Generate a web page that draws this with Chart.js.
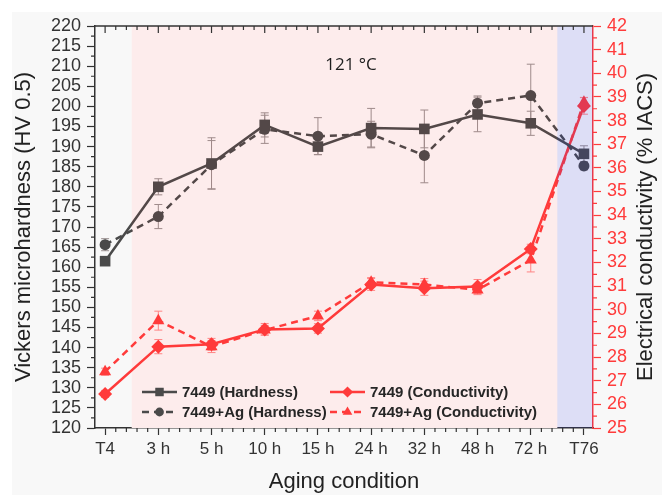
<!DOCTYPE html>
<html>
<head>
<meta charset="utf-8">
<script src="https://cdn.jsdelivr.net/npm/chart.js@4.4.0/dist/chart.umd.min.js"></script>
<style>
  html, body { margin: 0; padding: 0; background: #fff; }
  #wrap { width: 672px; height: 495px; }
</style>
</head>
<body>
<div id="wrap"><canvas id="chart" width="672" height="495"></canvas></div>
<script>
// aging conditions along the x axis
const conditions = ['T4', '3 h', '5 h', '10 h', '15 h', '24 h', '32 h', '48 h', '72 h', 'T76'];

// Vickers hardness (HV 0.5) and spread
const hardness7449 = [161.5, 180.0, 185.8, 195.4, 190.0, 194.6, 194.4, 198.0, 195.8, 188.2];
const hardness7449Err = [1.0, 2.0, 6.4, 3.0, 2.0, 4.9, 4.7, 4.3, 3.0, 2.0];
const hardnessAg = [165.6, 172.6, 185.5, 194.3, 192.6, 193.1, 187.8, 200.8, 202.7, 185.2];
const hardnessAgErr = [1.5, 3.0, 6.0, 3.5, 4.6, 3.2, 6.8, 1.8, 7.8, 1.0];

// electrical conductivity (% IACS) and spread
const cond7449 = [26.44, 28.44, 28.54, 29.17, 29.21, 31.07, 30.91, 30.98, 32.57, 38.62];
const cond7449Err = [0.15, 0.3, 0.25, 0.25, 0.2, 0.25, 0.3, 0.3, 0.2, 0.35];
const condAg = [27.38, 29.54, 28.44, 29.14, 29.74, 31.16, 31.07, 30.84, 32.10, 38.78];
const condAgErr = [0.15, 0.4, 0.25, 0.2, 0.2, 0.2, 0.25, 0.2, 0.5, 0.2];

// shaded aging windows (x positions in category units)
const agingBand = [0.5, 8.5];
const t76Band = [8.5, 9.17];

const DARK = '#4a4a4a';
const RED = '#ff3b3b';
const FONT = "'Liberation Sans', Arial, sans-serif";

const toPoints = arr => arr.map((v, i) => ({ x: i, y: v }));

// error bars, drawn under the lines
const errorBars = {
  id: 'errorBars',
  beforeDatasetsDraw(chart) {
    const ctx = chart.ctx;
    const xs = chart.scales.x;
    chart.data.datasets.forEach(ds => {
      const ys = chart.scales[ds.yAxisID];
      ctx.save();
      ctx.strokeStyle = ds.errorColor;
      ctx.lineWidth = 1;
      ds.data.forEach((p, i) => {
        const e = ds.errors[i];
        const px = xs.getPixelForValue(p.x);
        const top = ys.getPixelForValue(p.y + e);
        const bot = ys.getPixelForValue(p.y - e);
        ctx.beginPath();
        ctx.moveTo(px, top); ctx.lineTo(px, bot);
        ctx.moveTo(px - 4, top); ctx.lineTo(px + 4, top);
        ctx.moveTo(px - 4, bot); ctx.lineTo(px + 4, bot);
        ctx.stroke();
      });
      ctx.restore();
    });
  }
};

// page background, band fills under the data and a light tint over it
const bands = {
  id: 'bands',
  beforeDraw(chart) {
    const ctx = chart.ctx;
    ctx.save();
    ctx.fillStyle = '#ffffff';
    ctx.fillRect(0, 0, chart.width, chart.height);
    ctx.fillStyle = '#f8f8f8';
    ctx.fillRect(12, 12, 650, chart.height - 12);
    ctx.restore();
  },
  beforeDatasetsDraw(chart) {
    const ctx = chart.ctx;
    const xs = chart.scales.x;
    const { top, bottom } = chart.chartArea;
    const x0 = xs.getPixelForValue(agingBand[0]);
    const x1 = xs.getPixelForValue(agingBand[1]);
    ctx.save();
    ctx.fillStyle = '#fdf7f7';
    ctx.fillRect(x0, top, x1 - x0, bottom - top);
    ctx.restore();
  },
  afterDatasetsDraw(chart) {
    const ctx = chart.ctx;
    const xs = chart.scales.x;
    const { top, bottom } = chart.chartArea;
    ctx.save();
    let x0 = xs.getPixelForValue(agingBand[0]);
    let x1 = xs.getPixelForValue(agingBand[1]);
    ctx.fillStyle = 'rgba(255, 40, 40, 0.05)';
    ctx.fillRect(x0, top, x1 - x0, bottom - top);
    x0 = xs.getPixelForValue(t76Band[0]);
    x1 = xs.getPixelForValue(t76Band[1]);
    ctx.fillStyle = 'rgba(40, 50, 230, 0.13)';
    ctx.fillRect(x0, top, x1 - x0, bottom - top);
    ctx.restore();
  }
};

// minor ticks, top frame, legend, annotation and right-hand title
const decorations = {
  id: 'decorations',
  afterDraw(chart) {
    const ctx = chart.ctx;
    const { x: xs, y: yl, y2: yr } = chart.scales;
    const { left, right, top, bottom } = chart.chartArea;
    ctx.save();

    // top frame line with inward ticks
    ctx.strokeStyle = '#333';
    ctx.lineWidth = 1.5;
    ctx.beginPath();
    ctx.moveTo(left, top); ctx.lineTo(right, top);
    ctx.stroke();
    ctx.lineWidth = 1.2;
    ctx.beginPath();
    for (let v = 0; v <= 9.001; v += 0.2) {
      const px = xs.getPixelForValue(v);
      if (px > right) break;
      const major = Math.abs(v - Math.round(v)) < 0.01;
      ctx.moveTo(px, top); ctx.lineTo(px, top + (major ? 7 : 4));
      if (!major) { ctx.moveTo(px, bottom); ctx.lineTo(px, bottom + 4); }
    }
    ctx.stroke();

    // minor ticks on the hardness axis
    ctx.beginPath();
    for (let v = 122.5; v < 220; v += 5) {
      const py = yl.getPixelForValue(v);
      ctx.moveTo(left, py); ctx.lineTo(left - 4, py);
    }
    ctx.stroke();

    // minor ticks on the conductivity axis
    ctx.strokeStyle = RED;
    ctx.beginPath();
    for (let v = 25.5; v < 42; v += 1) {
      const py = yr.getPixelForValue(v);
      ctx.moveTo(right, py); ctx.lineTo(right + 4, py);
    }
    ctx.stroke();

    // legend
    const rows = [
      { x: 142, y: 392, ds: 0, text: '7449 (Hardness)' },
      { x: 142, y: 412, ds: 1, text: '7449+Ag (Hardness)' },
      { x: 330, y: 392, ds: 2, text: '7449 (Conductivity)' },
      { x: 330, y: 412, ds: 3, text: '7449+Ag (Conductivity)' }
    ];
    rows.forEach(r => {
      const ds = chart.data.datasets[r.ds];
      ctx.strokeStyle = ds.borderColor;
      ctx.fillStyle = ds.borderColor;
      ctx.lineWidth = 2.5;
      ctx.setLineDash(ds.borderDash || []);
      ctx.beginPath();
      ctx.moveTo(r.x, r.y); ctx.lineTo(r.x + 35, r.y);
      ctx.stroke();
      ctx.setLineDash([]);
      Chart.helpers.drawPoint(ctx, {
        pointStyle: ds.pointStyle,
        radius: ds.pointRadius * 0.8,
        rotation: 0,
        borderWidth: 0
      }, r.x + 17.5, r.y);
      ctx.fillStyle = '#262626';
      ctx.font = 'bold 15px ' + FONT;
      ctx.textBaseline = 'middle';
      ctx.textAlign = 'left';
      ctx.fillText(r.text, r.x + 40, r.y + 1);
    });

    // aging temperature
    ctx.fillStyle = '#1e1e1e';
    ctx.font = "17px 'Open Sans', 'Noto Sans', sans-serif";
    ctx.textAlign = 'center';
    ctx.fillText('121 °C', 351, 65);

    // right axis title, reading upwards
    ctx.translate(646, (top + bottom) / 2);
    ctx.rotate(-Math.PI / 2);
    ctx.fillStyle = '#222';
    ctx.font = '22px ' + FONT;
    ctx.fillText('Electrical conductivity (% IACS)', 0, 0);
    ctx.restore();
  }
};

new Chart(document.getElementById('chart'), {
  type: 'line',
  data: {
    datasets: [
      {
        label: '7449 (Hardness)',
        data: toPoints(hardness7449),
        errors: hardness7449Err,
        errorColor: '#9a9090',
        yAxisID: 'y',
        borderColor: DARK,
        backgroundColor: DARK,
        borderWidth: 2.5,
        pointStyle: 'rect',
        pointRadius: 7.5,
        pointBorderWidth: 0
      },
      {
        label: '7449+Ag (Hardness)',
        data: toPoints(hardnessAg),
        errors: hardnessAgErr,
        errorColor: '#9a9090',
        yAxisID: 'y',
        borderColor: DARK,
        backgroundColor: DARK,
        borderWidth: 2.5,
        borderDash: [7, 5],
        pointStyle: 'circle',
        pointRadius: 5.5,
        pointBorderWidth: 0
      },
      {
        label: '7449 (Conductivity)',
        data: toPoints(cond7449),
        errors: cond7449Err,
        errorColor: '#ff8a8a',
        yAxisID: 'y2',
        borderColor: RED,
        backgroundColor: RED,
        borderWidth: 2.5,
        pointStyle: 'rectRot',
        pointRadius: 7,
        pointBorderWidth: 0
      },
      {
        label: '7449+Ag (Conductivity)',
        data: toPoints(condAg),
        errors: condAgErr,
        errorColor: '#ff8a8a',
        yAxisID: 'y2',
        borderColor: RED,
        backgroundColor: RED,
        borderWidth: 2.5,
        borderDash: [7, 5],
        pointStyle: 'triangle',
        pointRadius: 7,
        pointBorderWidth: 0
      }
    ]
  },
  options: {
    responsive: false,
    devicePixelRatio: 1,
    animation: false,
    layout: { padding: { top: 26, left: 0, right: 0, bottom: 0 } },
    plugins: { legend: { display: false }, tooltip: { enabled: false } },
    scales: {
      x: {
        type: 'linear',
        position: 'bottom',
        min: -0.19,
        max: 9.17,
        afterFit: s => { s.height = 67; },
        ticks: {
          stepSize: 1,
          includeBounds: false,
          autoSkip: false,
          maxRotation: 0,
          padding: 4,
          color: '#333',
          font: { family: FONT, size: 17 },
          callback: v => conditions[v]
        },
        grid: { drawOnChartArea: false, tickLength: 7, color: '#333', tickWidth: 1.2 },
        border: { color: '#333', width: 1.5 },
        title: {
          display: true,
          text: 'Aging condition',
          color: '#222',
          font: { family: FONT, size: 22 },
          padding: { top: 0, bottom: 0 }
        }
      },
      y: {
        position: 'left',
        min: 120,
        max: 220,
        afterFit: s => { s.width = 95; },
        ticks: {
          stepSize: 5,
          autoSkip: false,
          padding: 6,
          color: '#333',
          font: { family: FONT, size: 18 }
        },
        grid: { drawOnChartArea: false, tickLength: 8, color: '#333', tickWidth: 1.2 },
        border: { color: '#333', width: 1.5 },
        title: {
          display: true,
          text: 'Vickers microhardness (HV 0.5)',
          color: '#222',
          font: { family: FONT, size: 22 },
          padding: { top: 11, bottom: 0 }
        }
      },
      y2: {
        position: 'right',
        min: 25,
        max: 42,
        afterFit: s => { s.width = 79; },
        ticks: {
          stepSize: 1,
          autoSkip: false,
          padding: 6,
          color: RED,
          font: { family: FONT, size: 18 }
        },
        grid: { drawOnChartArea: false, tickLength: 8, color: RED, tickWidth: 1.2 },
        border: { color: RED, width: 1.5 }
      }
    }
  },
  plugins: [bands, errorBars, decorations]
});
</script>
</body>
</html>
